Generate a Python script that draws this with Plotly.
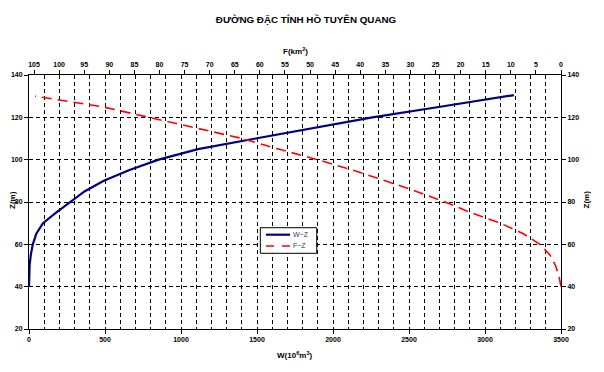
import plotly.graph_objects as go

# Elevation levels (m)
z_levels = [40, 45, 50, 55, 60, 65, 70, 75, 80, 85, 90, 95, 100, 105, 110, 115, 120, 125, 130, 130.5]
# Volume W (10^6 m^3) at each level
w_values = [0, 1, 4, 12, 25, 48, 92, 178, 271, 365, 492, 657, 853, 1112, 1491, 1880, 2259, 2706, 3161, 3190]

z_levels_f = [40, 45, 50, 55, 60, 65, 70, 75, 80, 85, 90, 95, 100, 105, 110, 115, 120, 125, 130]
# Surface area F (km^2) at each level
f_values = [0, 0.4, 1.1, 2.2, 4.2, 7.5, 12.1, 18.0, 23.1, 28.8, 35.0, 41.4, 48.5, 56.3, 63.5, 72.9, 81.8, 91.4, 104.8]

w_ticks = [0, 500, 1000, 1500, 2000, 2500, 3000, 3500]
f_ticks = [105, 100, 95, 90, 85, 80, 75, 70, 65, 60, 55, 50, 45, 40, 35, 30, 25, 20, 15, 10, 5, 0]
z_ticks = [20, 40, 60, 80, 100, 120, 140]

series_names = ["W~Z", "F~Z"]
series_colors = ["#000080", "#FF0000"]

FONT = "Arial, Liberation Sans, sans-serif"
tickfont = dict(family=FONT, size=7, color="black", weight="bold")
titlefont = dict(family=FONT, size=8, color="black", weight="bold")

fig = go.Figure()
fig.add_trace(go.Scatter(
    x=w_values, y=z_levels, mode="lines", name=series_names[0],
    line=dict(color=series_colors[0], width=2.2), xaxis="x", yaxis="y", showlegend=False))
fig.add_trace(go.Scatter(
    x=f_values, y=z_levels_f, mode="lines", name=series_names[1],
    line=dict(color=series_colors[1], width=1.6, dash="10px,6px"), xaxis="x2", yaxis="y",
    showlegend=False))
# invisible trace to activate right axis
fig.add_trace(go.Scatter(x=[0], y=[20], mode="markers", marker=dict(opacity=0),
                         showlegend=False, hoverinfo="skip", xaxis="x", yaxis="y2"))

common = dict(showline=True, linecolor="black", linewidth=1, ticks="outside", ticklen=4,
              tickcolor="black", tickfont=tickfont, zeroline=False, automargin=False)

# page body has an 8px default margin, so the figure is 8px smaller and shifted
fig.update_layout(
    width=596, height=364,
    margin=dict(l=21, r=43, t=67, b=43, autoexpand=False),
    paper_bgcolor="white", plot_bgcolor="white",
    title=dict(text="ĐƯỜNG ĐẶC TÍNH HỒ TUYÊN QUANG", x=0.5, xanchor="center",
               y=1 - 12/364, yanchor="middle",
               font=dict(family=FONT, size=9.8, color="black", weight="bold")),
    showlegend=False,
    xaxis=dict(range=[0, 3500], tickvals=w_ticks, ticktext=[str(v) for v in w_ticks],
               showgrid=True, gridcolor="black", gridwidth=1, griddash="4px,3px",
               minor=dict(dtick=100, tick0=0, showgrid=True, gridcolor="black", gridwidth=1,
                          griddash="4px,3px", ticks=""),
               **common),
    xaxis2=dict(range=[106, 0], overlaying="x", side="top", anchor="y",
                tickvals=f_ticks, ticktext=[str(v) for v in f_ticks],
                showgrid=False, **common),
    yaxis=dict(range=[20, 140], tickvals=z_ticks, ticktext=[str(v) for v in z_ticks],
               showgrid=True, gridcolor="black", gridwidth=1, griddash="4px,3px",
               **common),
    yaxis2=dict(range=[20, 140], overlaying="y", side="right", anchor="x",
                tickvals=z_ticks, ticktext=[str(v) for v in z_ticks],
                showgrid=False, **common),
)

# Axis titles
fig.add_annotation(text="Z(m)", xref="paper", yref="paper", x=-0.030, y=0.508,
                   textangle=-90, showarrow=False, font=titlefont,
                   xanchor="center", yanchor="middle")
fig.add_annotation(text="Z(m)", xref="paper", yref="paper", x=1.048, y=0.508,
                   textangle=-90, showarrow=False, font=titlefont,
                   xanchor="center", yanchor="middle")
fig.add_annotation(text="F(km<sup>2</sup>)", xref="paper", yref="paper", x=0.5, y=1.094,
                   showarrow=False, font=titlefont, xanchor="center", yanchor="middle")
fig.add_annotation(text="W(10<sup>6</sup>m<sup>3</sup>)", xref="paper", yref="paper", x=0.5,
                   y=-0.102, showarrow=False, font=titlefont, xanchor="center", yanchor="middle")

# Legend (drawn box)
lx0, lx1, ly0, ly1 = 0.4348, 0.5408, 0.298, 0.3988
fig.add_shape(type="rect", xref="paper", yref="paper", x0=lx0, x1=lx1, y0=ly0, y1=ly1,
              line=dict(color="black", width=1), fillcolor="white", layer="above")
legend_rows = [0.3713, 0.3268]
legend_dash = ["solid", "8px,8px"]
legend_width = [2.2, 1.6]
for name, color, yy, dsh, wd in zip(series_names, series_colors, legend_rows, legend_dash, legend_width):
    fig.add_shape(type="line", xref="paper", yref="paper", x0=0.4455, x1=0.4906, y0=yy, y1=yy,
                  line=dict(color=color, width=wd, dash=dsh), layer="above")
    fig.add_annotation(text=name, xref="paper", yref="paper", x=0.4925, y=yy, showarrow=False,
                       xanchor="left", yanchor="middle",
                       font=dict(family=FONT, size=7, color="#333366"))

fig.write_html("out.html")
